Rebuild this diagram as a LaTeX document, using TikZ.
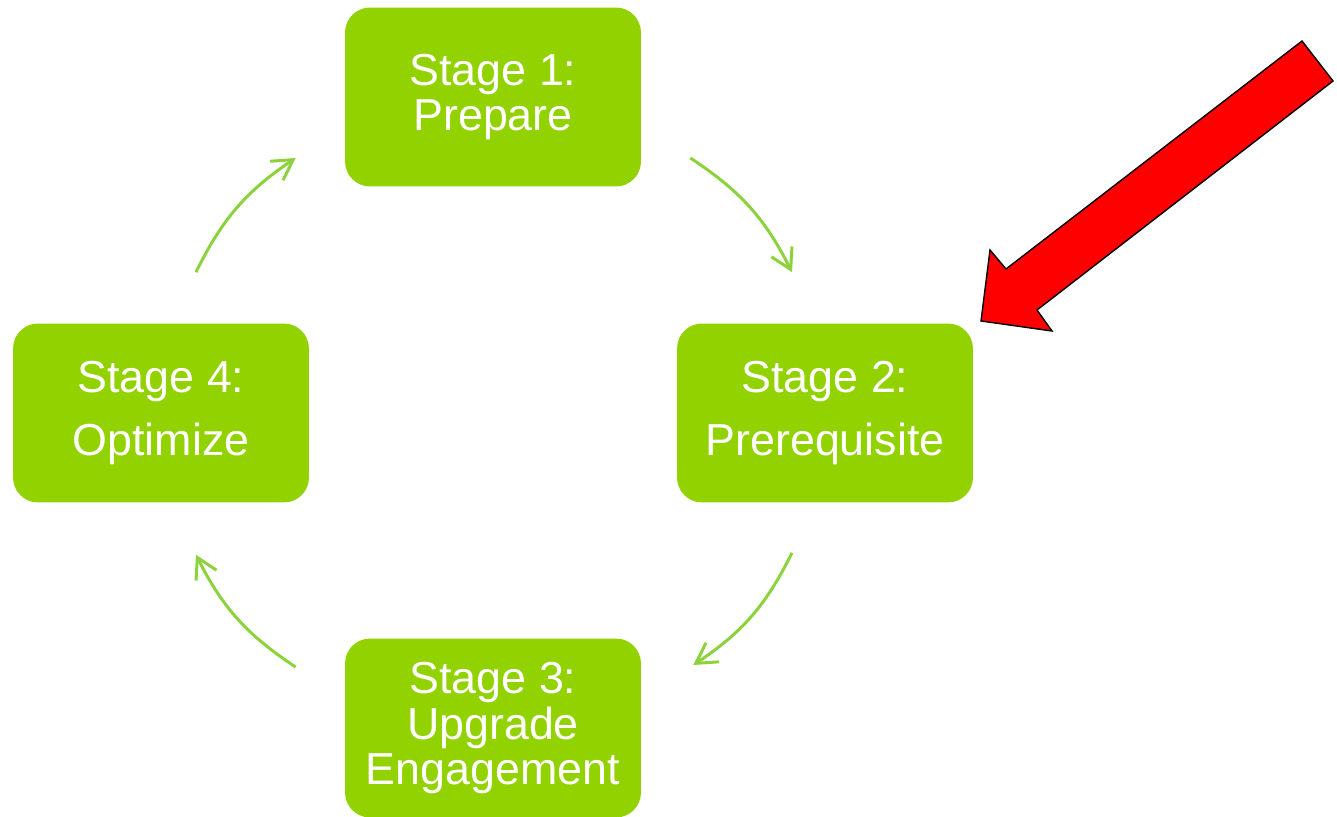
\documentclass[tikz,border=0pt]{standalone}
\usepackage{fontspec}
\setmainfont{Liberation Sans}
\usetikzlibrary{arrows.meta}
\definecolor{stagegreen}{RGB}{146,210,0}
\definecolor{cyclegreen}{RGB}{140,210,60}

\begin{document}
\begin{tikzpicture}[x=0.02cm,y=-0.02cm]
\useasboundingbox (0,0) rectangle (1337,817);

\foreach \n/\x/\y/\t in {1/493/97/{Stage 1:\\Prepare}, 2/825/413/{Stage 2:\\[10pt]Prerequisite}, 3/493/728/{Stage 3:\\Upgrade\\Engagement}, 4/161/413/{Stage 4:\\[10pt]Optimize}}
\node[fill=stagegreen,rounded corners=0.5cm,minimum width=5.92cm,minimum height=3.58cm,text=white,font=\fontsize{25.5}{26}\selectfont,align=center,inner sep=0pt] (s\n) at (\x,\y) {\t};

\coordinate (a1) at ([xshift=0.98cm,yshift=-1.22cm]s1.east);
\coordinate (b1) at ([xshift=-0.66cm,yshift=1.02cm]s2.north);
\coordinate (a2) at ([xshift=-0.66cm,yshift=-1.0cm]s2.south);
\coordinate (b2) at ([xshift=1.04cm,yshift=1.26cm]s3.east);
\coordinate (a3) at ([xshift=-0.98cm,yshift=1.22cm]s3.west);
\coordinate (b3) at ([xshift=0.7cm,yshift=-1.04cm]s4.south);
\coordinate (a4) at ([xshift=0.7cm,yshift=1.02cm]s4.north);
\coordinate (b4) at ([xshift=-0.98cm,yshift=-1.22cm]s1.west);

\foreach \i in {1,...,4}
\draw[cyclegreen,line width=1.7pt,-{Straight Barb[length=4mm,width=4.6mm]}] (a\i) to[bend left=15] (b\i);

% pointer
\draw[fill=red,line width=0.8pt,line join=miter] (1302,41) -- (1333,81) -- (1037,310) -- (1052,331) -- (981,321) -- (990,250) -- (1006,269) -- cycle;

\end{tikzpicture}
\end{document}
